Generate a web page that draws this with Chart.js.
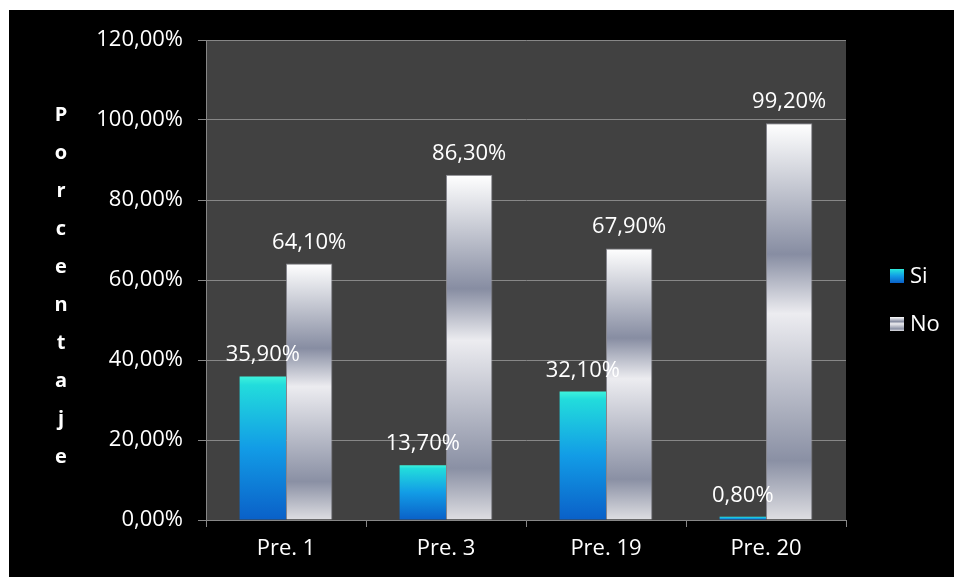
<!DOCTYPE html>
<html>
<head>
<meta charset="utf-8">
<script src="https://cdn.jsdelivr.net/npm/chart.js@4.4.1/dist/chart.umd.min.js"></script>
<style>
  body { margin: 0; background: #ffffff; }
  #chart { position: absolute; left: 9px; top: 10px; }
</style>
</head>
<body>
<canvas id="chart" width="945" height="567"></canvas>
<script>
// Chart data
const categories = ['Pre. 1', 'Pre. 3', 'Pre. 19', 'Pre. 20'];
const siValues = [35.90, 13.70, 32.10, 0.80];
const noValues = [64.10, 86.30, 67.90, 99.20];
const yTicks = [0, 20, 40, 60, 80, 100, 120];
const axisTitle = 'Porcentaje';

const FONT = '"Open Sans", "DejaVu Sans", sans-serif';
const gray = '#878787';

const siStops = [[0, '#3ef2dc'], [0.06, '#22dcdc'], [0.5, '#129ce6'], [1, '#0a60c8']];
const noStops = [[0, '#ffffff'], [0.33, '#878da2'], [0.48, '#ececf0'], [0.85, '#8a90a4'], [1, '#dedee2']];

const fmt = (v) => v.toFixed(2).replace('.', ',') + '%';

function makeGradient(ctx2d, top, bottom, stops) {
  const g = ctx2d.createLinearGradient(0, top, 0, bottom);
  stops.forEach(([o, c]) => g.addColorStop(o, c));
  return g;
}

// gradient per bar, from its top to the axis base
function barFill(stops) {
  return (context) => {
    const chart = context.chart;
    if (!chart.chartArea || context.type !== 'data') return stops[1][1];
    const y = chart.scales.y;
    const top = y.getPixelForValue(context.raw);
    const bottom = y.getPixelForValue(0);
    return makeGradient(chart.ctx, top, bottom, stops);
  };
}

const backgroundPlugin = {
  id: 'background',
  beforeDraw(chart) {
    const {ctx, chartArea: a} = chart;
    ctx.save();
    ctx.fillStyle = '#000000';
    ctx.fillRect(0, 0, chart.width, chart.height);
    ctx.fillStyle = '#414141';
    ctx.fillRect(a.left, a.top, a.right - a.left, a.bottom - a.top);
    ctx.restore();
  }
};

const valueLabels = {
  id: 'valueLabels',
  afterDatasetsDraw(chart) {
    const ctx = chart.ctx;
    ctx.save();
    ctx.font = '22px ' + FONT;
    ctx.fillStyle = '#ffffff';
    ctx.textAlign = 'center';
    ctx.textBaseline = 'alphabetic';
    chart.data.datasets.forEach((ds, i) => {
      chart.getDatasetMeta(i).data.forEach((bar, j) => {
        ctx.fillText(fmt(ds.data[j]), bar.x, bar.y - 15);
      });
    });
    ctx.restore();
  }
};

const sideTexts = {
  id: 'sideTexts',
  afterDraw(chart) {
    const ctx = chart.ctx;
    ctx.save();
    // vertical stacked axis title
    ctx.font = 'bold 20px ' + FONT;
    ctx.fillStyle = '#ffffff';
    ctx.textAlign = 'center';
    ctx.textBaseline = 'middle';
    axisTitle.split('').forEach((ch, i) => {
      ctx.fillText(ch, 52, 105 + i * 38);
    });
    // legend
    ctx.font = '22px ' + FONT;
    ctx.textAlign = 'left';
    chart.data.datasets.forEach((ds, i) => {
      const y = 266 + i * 48;
      ctx.fillStyle = makeGradient(ctx, y - 7, y + 7, ds.legendStops);
      ctx.fillRect(881, y - 7, 14, 14);
      ctx.fillStyle = '#ffffff';
      ctx.fillText(ds.label, 901, y + 1);
    });
    ctx.restore();
  }
};

new Chart(document.getElementById('chart'), {
  type: 'bar',
  data: {
    labels: categories,
    datasets: [
      {
        label: 'Si',
        data: siValues,
        backgroundColor: barFill(siStops),
        legendStops: siStops,
        borderWidth: 0
      },
      {
        label: 'No',
        data: noValues,
        backgroundColor: barFill(noStops),
        legendStops: noStops,
        borderColor: 'rgba(150,150,160,0.8)',
        borderWidth: 1
      }
    ]
  },
  options: {
    responsive: false,
    animation: false,
    layout: { padding: { top: 30, right: 108, left: 0, bottom: 0 } },
    datasets: { bar: { categoryPercentage: 0.58, barPercentage: 1 } },
    plugins: {
      legend: { display: false },
      tooltip: { enabled: false }
    },
    scales: {
      x: {
        grid: { drawOnChartArea: false, drawTicks: true, tickLength: 7, color: gray },
        border: { color: gray },
        ticks: { color: '#ffffff', font: { family: FONT, size: 22 }, padding: 9 },
        afterFit: (scale) => { scale.height = 57; }
      },
      y: {
        min: 0,
        max: 120,
        afterBuildTicks: (scale) => { scale.ticks = yTicks.map((v) => ({ value: v })); },
        grid: { color: gray, tickLength: 8, lineWidth: 1 },
        border: { color: gray },
        ticks: {
          color: '#ffffff',
          font: { family: FONT, size: 22 },
          padding: 15,
          callback: (v) => fmt(v)
        },
        afterFit: (scale) => { scale.width = 197; }
      }
    }
  },
  plugins: [backgroundPlugin, valueLabels, sideTexts]
});
</script>
</body>
</html>
